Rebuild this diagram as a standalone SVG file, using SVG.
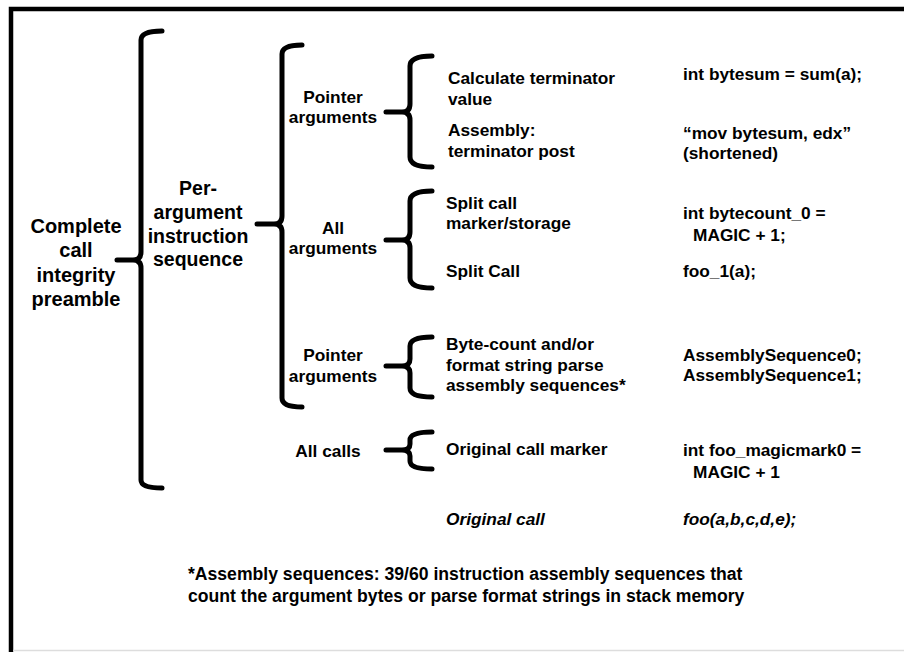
<svg xmlns="http://www.w3.org/2000/svg" width="904" height="652" viewBox="0 0 904 652">
<style>
text{font-family:"Liberation Sans",Arial,sans-serif;font-weight:bold;fill:#000}
.big{font-size:20px;text-anchor:middle}
.mid{font-size:19.5px;text-anchor:middle}
.lbl{font-size:17.3px;text-anchor:middle}
.item{font-size:17.3px}
.foot{font-size:17.6px}
.it{font-style:italic}
.brace{fill:none;stroke:#000;stroke-width:5;stroke-linecap:round;stroke-linejoin:round}
</style>
<rect x="0" y="0" width="904" height="652" fill="#fff"/>
<path d="M11,652 L11,9 L904,9" fill="none" stroke="#000" stroke-width="4.5"/>
<line x1="13" y1="650.5" x2="904" y2="650.5" stroke="#ddd" stroke-width="1.5"/>

<g id="connectors">
  <path class="brace" d="M162,31 Q141,31 141,40 L141,252 Q141,260 133,260 L117,260 M133,260 Q141,260 141,268 L141,480 Q141,488 162,488"/>
  <path class="brace" d="M302,45 Q282,45 282,54 L282,216 Q282,224 274,224 L257,224 M274,224 Q282,224 282,232 L282,398 Q282,407 302,407"/>
  <path class="brace" d="M432,56 Q410,56 410,66 L410,104 Q410,112 402,112 L386,112 M402,112 Q410,112 410,120 L410,157 Q410,167 432,167"/>
  <path class="brace" d="M432,191 Q410,191 410,201 L410,232 Q410,240 402,240 L386,240 M402,240 Q410,240 410,248 L410,278 Q410,288 432,288"/>
  <path class="brace" d="M432,337 Q410,337 410,346 L410,359 Q410,366 402,366 L386,366 M402,366 Q410,366 410,373 L410,388 Q410,397 432,397"/>
  <path class="brace" d="M432,432 Q410,432 410,440 L410,444 Q410,450 402,450 L386,450 M402,450 Q410,450 410,456 L410,461 Q410,469 432,469"/>
</g>

<g id="node-preamble">
  <text class="big" x="76" y="233">Complete</text>
  <text class="big" x="76" y="257">call</text>
  <text class="big" x="76" y="282">integrity</text>
  <text class="big" x="76" y="306">preamble</text>
</g>
<g id="node-per-argument">
  <text class="mid" x="198" y="195">Per-</text>
  <text class="mid" x="198" y="219">argument</text>
  <text class="mid" x="198" y="243">instruction</text>
  <text class="mid" x="198" y="266">sequence</text>
</g>
<g id="node-pointer-args-1">
  <text class="lbl" x="333" y="103">Pointer</text>
  <text class="lbl" x="333" y="123">arguments</text>
</g>
<g id="node-all-args">
  <text class="lbl" x="333" y="234">All</text>
  <text class="lbl" x="333" y="254">arguments</text>
</g>
<g id="node-pointer-args-2">
  <text class="lbl" x="333" y="361">Pointer</text>
  <text class="lbl" x="333" y="382">arguments</text>
</g>
<g id="node-all-calls">
  <text class="lbl" x="328" y="457">All calls</text>
</g>

<g id="node-calc-terminator">
  <text class="item" x="448" y="84">Calculate terminator</text>
  <text class="item" x="448" y="105">value</text>
  <text class="item" x="683" y="80">int bytesum = sum(a);</text>
</g>
<g id="node-assembly-terminator">
  <text class="item" x="448" y="136">Assembly:</text>
  <text class="item" x="448" y="157">terminator post</text>
  <text class="item" x="683" y="139">“mov bytesum, edx”</text>
  <text class="item" x="683" y="159">(shortened)</text>
</g>
<g id="node-split-marker">
  <text class="item" x="446" y="209">Split call</text>
  <text class="item" x="446" y="229">marker/storage</text>
  <text class="item" x="683" y="219">int bytecount_0 =</text>
  <text class="item" x="693" y="241">MAGIC + 1;</text>
</g>
<g id="node-split-call">
  <text class="item" x="446" y="277">Split Call</text>
  <text class="item" x="683" y="277">foo_1(a);</text>
</g>
<g id="node-byte-count">
  <text class="item" x="446" y="350">Byte-count and/or</text>
  <text class="item" x="446" y="371">format string parse</text>
  <text class="item" x="446" y="391">assembly sequences*</text>
  <text class="item" x="683" y="361">AssemblySequence0;</text>
  <text class="item" x="683" y="381">AssemblySequence1;</text>
</g>
<g id="node-call-marker">
  <text class="item" x="446" y="455">Original call marker</text>
  <text class="item" x="683" y="456">int foo_magicmark0 =</text>
  <text class="item" x="693" y="478">MAGIC + 1</text>
</g>
<g id="node-original-call">
  <text class="item it" x="446" y="525">Original call</text>
  <text class="item it" x="683" y="525">foo(a,b,c,d,e);</text>
</g>
<g id="footnote">
  <text class="foot" x="188" y="580">*Assembly sequences: 39/60 instruction assembly sequences that</text>
  <text class="foot" x="188" y="602">count the argument bytes or parse format strings in stack memory</text>
</g>
</svg>
